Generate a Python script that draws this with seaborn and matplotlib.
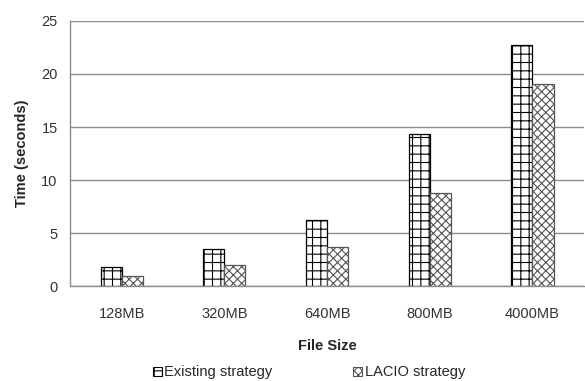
#Recreating the file size vs time grouped bar chart with hatched bars.

#Importing libraries.
import pandas as pd
import matplotlib
matplotlib.use('Agg')
import matplotlib.pyplot as plt
import seaborn as sns
from matplotlib.patches import Patch

#Chart data.
file_sizes = ['128MB', '320MB', '640MB', '800MB', '4000MB']
existing_times = [1.8, 3.5, 6.2, 14.3, 22.7]
lacio_times = [0.95, 2.0, 3.7, 8.8, 19.1]
strategies = ['Existing strategy', 'LACIO strategy']

#Building a long table for seaborn.
df = pd.DataFrame({
    'File Size': file_sizes * 2,
    'Time': existing_times + lacio_times,
    'Strategy': [strategies[0]] * len(file_sizes) + [strategies[1]] * len(file_sizes),
})

sns.set_style('white')
plt.rcParams['font.family'] = ['Liberation Sans', 'DejaVu Sans']
plt.rcParams['hatch.linewidth'] = 0.8

fig = plt.figure(figsize=(5.85, 3.81), dpi=100)
ax = fig.add_axes([0.12, 0.249, 0.878, 0.696])

sns.barplot(data=df, x='File Size', y='Time', hue='Strategy', order=file_sizes,
            hue_order=strategies, palette=['white', 'white'], width=0.41,
            gap=0, ax=ax, legend=False, saturation=1)

#Hatching the bars like the original.
for i, patch in enumerate(ax.patches[:2 * len(file_sizes)]):
    if i < len(file_sizes):
        patch.set_hatch('++')
        patch.set_edgecolor('black')
    else:
        patch.set_hatch('xxxx')
        patch.set_edgecolor('#555555')
    patch.set_linewidth(0.9)

ax.set_ylim(0, 25)
ax.set_xlim(-0.5, 4.5)
ax.set_yticks(range(0, 26, 5))
ax.yaxis.grid(True, color='#8c8c8c', linewidth=1)
ax.set_axisbelow(True)
for side in ['top', 'right']:
    ax.spines[side].set_visible(False)
for side in ['left', 'bottom']:
    ax.spines[side].set_color('#8c8c8c')
    ax.spines[side].set_linewidth(1)

#Category separator ticks on the x axis.
ax.set_xticks([0.5, 1.5, 2.5, 3.5], minor=True)
ax.tick_params(axis='x', which='major', length=0, labelsize=10.5, pad=15, colors='#333333')
ax.tick_params(axis='x', which='minor', length=4, color='#8c8c8c', direction='out')
ax.tick_params(axis='y', length=4, color='#8c8c8c', direction='out', labelsize=10.5,
               colors='#333333', pad=5)

ax.set_xlabel('File Size', fontsize=10.5, fontweight='bold', labelpad=13)
ax.set_ylabel('Time (seconds)', fontsize=10.5, fontweight='bold', labelpad=9)

#Legend below the chart.
handles = [Patch(facecolor='white', edgecolor='black', hatch='++', linewidth=0.8),
           Patch(facecolor='white', edgecolor='#555555', hatch='xxxx', linewidth=0.8)]
fig.legend(handles, strategies, loc='lower center', bbox_to_anchor=(0.528, -0.03), ncol=2,
           frameon=False, fontsize=10.5, handlelength=0.6, handleheight=0.6,
           handletextpad=0.2, columnspacing=5.5)

plt.savefig('out.png', dpi=100)
